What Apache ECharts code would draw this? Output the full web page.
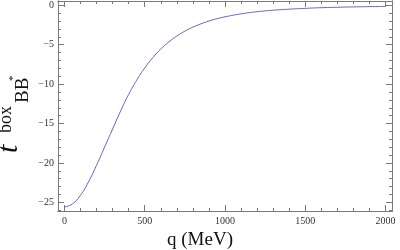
<!DOCTYPE html>
<html>
<head>
<meta charset="utf-8">
<script src="https://cdn.jsdelivr.net/npm/echarts@6/dist/echarts.min.js"></script>
<style>html,body{margin:0;padding:0;background:#fff}#c{width:400px;height:250px}</style>
</head>
<body>
<div id="c"></div>
<script>
// q (MeV)
var qValues = [0,50,100,150,200,250,300,350,400,450,500,550,600,650,700,750,800,850,900,950,1000,1100,1200,1300,1400,1500,1600,1700,1800,1900,2000];
// t^box_BB*
var tValues = [-25.6,-25.2,-24.1,-22.4,-20.3,-18.0,-15.7,-13.4,-11.3,-9.5,-7.95,-6.65,-5.55,-4.65,-3.9,-3.28,-2.77,-2.35,-1.99,-1.70,-1.46,-1.08,-0.81,-0.62,-0.49,-0.38,-0.30,-0.245,-0.20,-0.165,-0.135];
var xMajor = [0,500,1000,1500,2000];
var xMinor = [];
for (var i = 0; i <= 2000; i += 100) { if (i % 500) xMinor.push(i); }
var yMajor = [0,-5,-10,-15,-20,-25];
var yMinor = [];
for (var j = 0; j >= -26; j -= 1) { if (j % 5) yMinor.push(j); }

var X_MIN = -40, X_MAX = 2040, Y_MIN = -26.1, Y_MAX = 0.55;
var frameColor = '#7a7a7a';
var serif = 'Liberation Serif';

function fmt(v){ return (v < 0 ? '\u2212' : '') + Math.abs(v); }

function xAx(pos, ticks, len, labels) {
  return {
    type: 'value', position: pos, min: X_MIN, max: X_MAX,
    axisLine: {show: true, onZero: false, lineStyle: {color: frameColor, width: 1}},
    axisTick: {show: true, inside: true, length: len, customValues: ticks, lineStyle: {color: frameColor}},
    axisLabel: {show: labels, customValues: ticks, formatter: fmt, fontFamily: serif, fontSize: 10, color: '#333', margin: 5},
    splitLine: {show: false}
  };
}
function yAx(pos, ticks, len, labels) {
  return {
    type: 'value', position: pos, min: Y_MIN, max: Y_MAX,
    axisLine: {show: true, onZero: false, lineStyle: {color: frameColor, width: 1}},
    axisTick: {show: true, inside: true, length: len, customValues: ticks, lineStyle: {color: frameColor}},
    axisLabel: {show: labels, customValues: ticks, formatter: fmt, fontFamily: serif, fontSize: 10, color: '#333', margin: 4},
    splitLine: {show: false}
  };
}

var chart = echarts.init(document.getElementById('c'), null, {renderer: 'canvas'});
var data = qValues.map(function(q, k){ return [q, tValues[k]]; });
chart.setOption({
  animation: false,
  grid: {left: 58, right: 8, top: 1, bottom: 39, containLabel: false},
  xAxis: [
    xAx('bottom', xMajor, 6, true),
    xAx('bottom', xMinor, 3, false),
    xAx('top', xMajor, 6, false),
    xAx('top', xMinor, 3, false)
  ],
  yAxis: [
    yAx('left', yMajor, 6, true),
    yAx('left', yMinor, 3, false),
    yAx('right', yMajor, 6, false),
    yAx('right', yMinor, 3, false)
  ],
  series: [{
    type: 'line', data: data, smooth: true, showSymbol: false,
    xAxisIndex: 0, yAxisIndex: 0,
    lineStyle: {color: '#6464c8', width: 1}
  }],
  graphic: [
    {type: 'text', left: 'center', top: 231, style: {text: 'q (MeV)', font: '19px "Liberation Serif"', fill: '#111'}},
    {type: 'group', x: 24, y: 153, rotation: Math.PI / 2, children: [
      {type: 'text', x: 0, y: 0, style: {text: 't', font: 'italic 30px "Liberation Serif"', fill: '#111', verticalAlign: 'bottom', align: 'left'}},
      {type: 'text', x: 20, y: -9, style: {text: 'box', font: '18px "Liberation Serif"', fill: '#111', verticalAlign: 'bottom', align: 'left'}},
      {type: 'text', x: 50, y: 9, style: {text: 'BB', font: '19px "Liberation Serif"', fill: '#111', verticalAlign: 'bottom', align: 'left'}},
      {type: 'text', x: 72, y: -5, style: {text: '*', font: '11px "Liberation Serif"', fill: '#111', verticalAlign: 'bottom', align: 'left'}}
    ]}
  ]
});
</script>
</body>
</html>
